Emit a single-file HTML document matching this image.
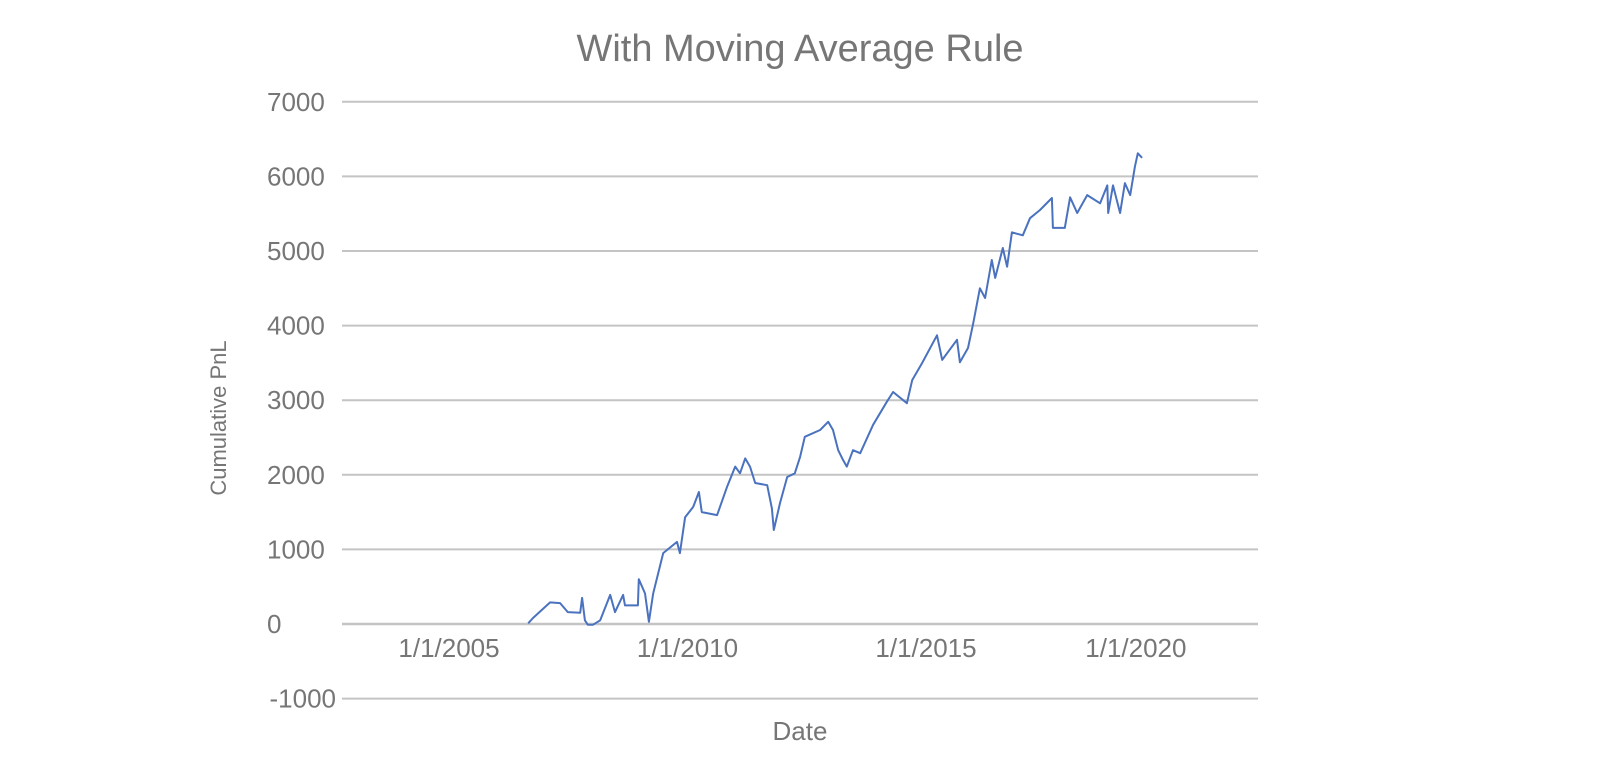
<!DOCTYPE html>
<html><head><meta charset="utf-8"><style>
body{margin:0;background:#fff;}
svg{display:block;font-family:"Liberation Sans",sans-serif;}
</style></head><body>
<svg id="chart" width="1600" height="767" viewBox="0 0 1600 767">
<text x="800" y="61" font-size="38" fill="#767676" text-anchor="middle">With Moving Average Rule</text>
<g id="grid"></g>
<g id="yticks"></g>
<g id="xticks"></g>
<path id="line" fill="none" stroke="#4a72bf" stroke-width="2" stroke-linejoin="round"></path>
<text x="0" y="0" font-size="22" fill="#767676" text-anchor="middle" transform="translate(226,418) rotate(-90)">Cumulative PnL</text>
<text x="800" y="740" font-size="26" fill="#767676" text-anchor="middle">Date</text>
</svg>
<script>
const yTicks = [-1000,0,1000,2000,3000,4000,5000,6000,7000];
const xTickYears = [2005,2010,2015,2019.4];
const xTickLabels = ['1/1/2005','1/1/2010','1/1/2015','1/1/2020'];
const dates = [2006.66,2006.76,2007.12,2007.33,2007.49,2007.75,2007.79,2007.85,2007.91,2008.02,2008.17,2008.38,2008.48,2008.65,2008.69,2008.96,2008.98,2009.11,2009.19,2009.28,2009.49,2009.78,2009.84,2009.95,2010.12,2010.24,2010.30,2010.62,2010.83,2011.00,2011.10,2011.21,2011.31,2011.42,2011.67,2011.77,2011.81,2011.94,2012.09,2012.25,2012.36,2012.46,2012.78,2012.95,2013.05,2013.16,2013.26,2013.34,2013.47,2013.62,2013.89,2014.18,2014.31,2014.60,2014.71,2014.92,2015.23,2015.34,2015.65,2015.71,2015.88,2015.99,2016.13,2016.24,2016.38,2016.45,2016.61,2016.70,2016.80,2017.03,2017.18,2017.39,2017.64,2017.66,2017.91,2018.02,2018.17,2018.38,2018.65,2018.80,2018.82,2018.92,2019.07,2019.17,2019.28,2019.38,2019.44,2019.53];
const pnl = [10,80,290,280,160,150,350,50,-10,-10,50,390,160,390,250,250,600,410,30,410,950,1100,950,1430,1570,1770,1500,1460,1840,2110,2020,2220,2110,1890,1860,1550,1260,1620,1970,2020,2240,2510,2600,2710,2600,2330,2200,2110,2330,2290,2670,2980,3110,2960,3270,3500,3870,3540,3810,3510,3700,4030,4500,4370,4880,4640,5040,4790,5250,5210,5440,5550,5710,5310,5310,5720,5510,5750,5640,5880,5510,5880,5510,5910,5750,6130,6310,6250];

const X0=342, X1=1258;
function yScale(v){ return 624 - v*0.0746; }
function xScale(yr){ return 449 + (yr-2005)*47.7; }
const NS='http://www.w3.org/2000/svg';
const grid=document.getElementById('grid'), yt=document.getElementById('yticks'), xt=document.getElementById('xticks');
yTicks.forEach(v=>{
  const l=document.createElementNS(NS,'line');
  
  
  l.setAttribute('x1',X0);l.setAttribute('x2',X1);
  l.setAttribute('y1',yScale(v));l.setAttribute('y2',yScale(v));
  l.setAttribute('stroke','#c4c4c4');l.setAttribute('stroke-width',v===0?2.5:2);
  grid.appendChild(l);
  const t=document.createElementNS(NS,'text');
  
  
  t.setAttribute('x', v<0?336:267);
  t.setAttribute('text-anchor', v<0?'end':'start');
  t.setAttribute('y',yScale(v)+9);
  t.setAttribute('font-size','26');t.setAttribute('fill','#767676');
  t.textContent=String(v);
  yt.appendChild(t);
});
xTickYears.forEach((yr,i)=>{
  const t=document.createElementNS(NS,'text');
  
  
  t.setAttribute('x',xScale(yr));t.setAttribute('y',657);
  t.setAttribute('text-anchor','middle');
  t.setAttribute('font-size','26');t.setAttribute('fill','#767676');
  t.textContent=xTickLabels[i];
  xt.appendChild(t);
});
document.getElementById('line').setAttribute('d', dates.map((d,i)=>(i?'L':'M')+xScale(d).toFixed(1)+','+yScale(pnl[i]).toFixed(1)).join(' '));
</script>
</body></html>
